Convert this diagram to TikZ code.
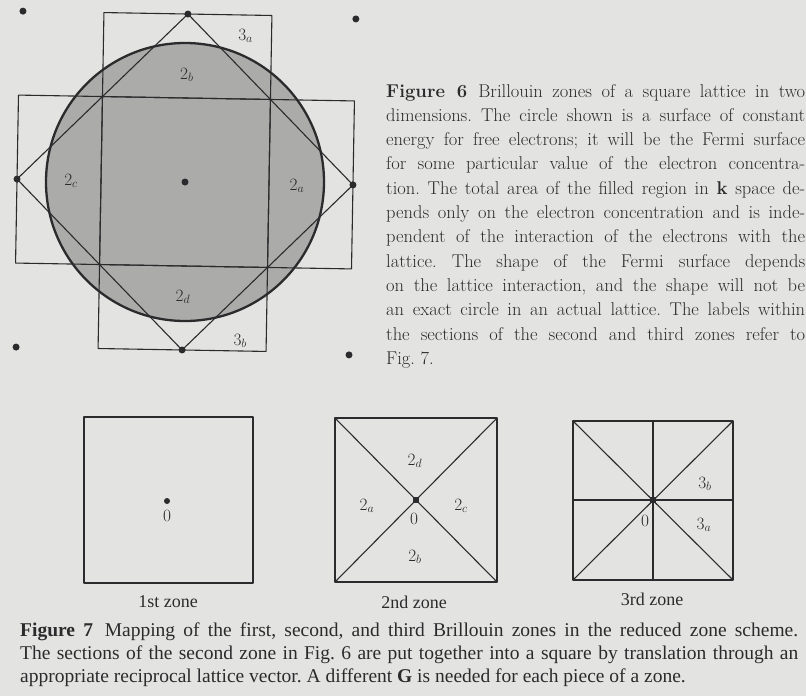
\documentclass[tikz,border=0pt]{standalone}
\usepackage{amsmath}
\usepackage{fontspec}
\newfontfamily\timesfont{Liberation Serif}
\usepackage{xcolor}
\usetikzlibrary{positioning,calc}
\definecolor{paper}{HTML}{E3E4E1}
\definecolor{ink}{HTML}{2B2B2D}
\definecolor{fermifill}{HTML}{ABABAA}
\frenchspacing

\begin{document}
\begin{tikzpicture}[x=1pt, y=-1pt,
  zone/.style={draw=ink, line width=1.1pt, line join=round},
  fermi/.style={draw=ink, line width=2.3pt, fill=fermifill},
  latt/.style={circle, fill=ink, inner sep=0pt, minimum size=7pt},
  orig/.style={circle, fill=ink, inner sep=0pt, minimum size=6pt},
  lbl/.style={font=\fontsize{18}{18}\selectfont, text=ink, inner sep=0pt},
  zonename/.style={font=\timesfont\fontsize{18}{18}\selectfont, text=ink, inner sep=0pt},
  captext/.style={text=ink, align=justify, inner sep=0pt, anchor=base west}]
  \useasboundingbox[fill=paper] (0,0) rectangle (806,696);

  % Figure 6: square lattice, zones and free electron circle
  \begin{scope}[shift={(185,182)}, rotate=-1]
    \draw[fermi] (0,0) circle[radius=139pt];
    \node[latt] (G0) at (0,0) {};
    \foreach \name/\dx/\dy in {gT/0/-168, gR/168/0, gB/0/168, gL/-168/0,
                               kTL/-165/-168, kTR/168/-166, kBL/-166/168, kBR/167/170}
      \node[latt] (\name) at (\dx,\dy) {};
    % first zone, then the rectangles and the diamond
    \draw[zone] (-84,-84) rectangle (84,84);
    \draw[zone] (-84,-168) rectangle (84,168);
    \draw[zone] (-168,-84) rectangle (168,84);
    \draw[zone] (gT.center) -- (gR.center) -- (gB.center) -- (gL.center) -- cycle;
    \node[lbl] (l3a) at (58,-147) {$3_a$};
    \node[lbl] (l2b) at (0,-107) {$2_b$};
    \node[lbl] (l2c) at (-114,1) {$2_c$};
    \node[lbl] (l2a) at (112,2) {$2_a$};
    \node[lbl] (l2d) at (0,115) {$2_d$};
    \node[lbl] (l3b) at (58,158) {$3_b$};
  \end{scope}

  \node[captext, text width=419pt, font=\fontsize{18.5}{24.3}\selectfont] (cap6) at (386,97)
    {{\bfseries Figure 6}\hspace{0.6em}Brillouin zones of a square lattice in two\linebreak
     dimensions. The circle shown is a surface of constant\linebreak
     energy for free electrons; it will be the Fermi surface\linebreak
     for some particular value of the electron concentra-\linebreak
     tion. The total area of the filled region in {\bfseries k} space de-\linebreak
     pends only on the electron concentration and is inde-\linebreak
     pendent of the interaction of the electrons with the\linebreak
     lattice. The shape of the Fermi surface depends\linebreak
     on the lattice interaction, and the shape will not be\linebreak
     an exact circle in an actual lattice. The labels within\linebreak
     the sections of the second and third zones refer to\linebreak
     Fig.~7.\par};

  % Figure 7: reduced zone scheme
  \coordinate (z1a) at (84,417);  \coordinate (z1b) at (253,583);
  \coordinate (z2a) at (335,418); \coordinate (z2b) at (497,582);
  \coordinate (z3a) at (573,421); \coordinate (z3b) at (733,580);

  \draw[zone] (z1a) rectangle (z1b);
  \node[orig] (o1) at (167,501) {};
  \node[lbl, below=6pt of o1] (n1) {$0$};
  \node[zonename] (t1) at (168,602) {1st zone};

  \draw[zone] (z2a) rectangle (z2b);
  \draw[zone] (z2a) -- (z2b);
  \draw[zone] (z2a |- z2b) -- (z2b |- z2a);
  \node[orig, rectangle, minimum size=5.5pt] (o2) at (416,500) {};
  \node[lbl] (l2d7) at (415,461) {$2_d$};
  \node[lbl] (l2a7) at (367,506) {$2_a$};
  \node[lbl] (l2c7) at (461,506) {$2_c$};
  \node[lbl] (n2) at (414,519) {$0$};
  \node[lbl] (l2b7) at (415,557) {$2_b$};
  \node[zonename] (t2) at (414,602) {2nd zone};

  \draw[zone] (z3a) rectangle (z3b);
  \draw[zone] (z3a) -- (z3b);
  \draw[zone] (z3a |- z3b) -- (z3b |- z3a);
  \draw[zone] (653,421) -- (653,580);
  \draw[zone] (573,500) -- (733,500);
  \node[orig, rectangle, minimum size=5.5pt] (o3) at (653,500) {};
  \node[lbl] (l3b7) at (705,484) {$3_b$};
  \node[lbl] (n3) at (645,521) {$0$};
  \node[lbl] (l3a7) at (704,525) {$3_a$};
  \node[zonename] (t3) at (652,599) {3rd zone};

  \node[captext, text width=778pt, font=\timesfont\fontsize{19.5}{23}\selectfont] (cap7) at (20,636)
    {{\bfseries Figure 7}\hspace{0.6em}Mapping of the first, second, and third Brillouin zones in the reduced zone scheme.\linebreak
     The sections of the second zone in Fig.~6 are put together into a square by translation through an\linebreak
     appropriate reciprocal lattice vector. A different {\bfseries G} is needed for each piece of a zone.\par};
\end{tikzpicture}
\end{document}
